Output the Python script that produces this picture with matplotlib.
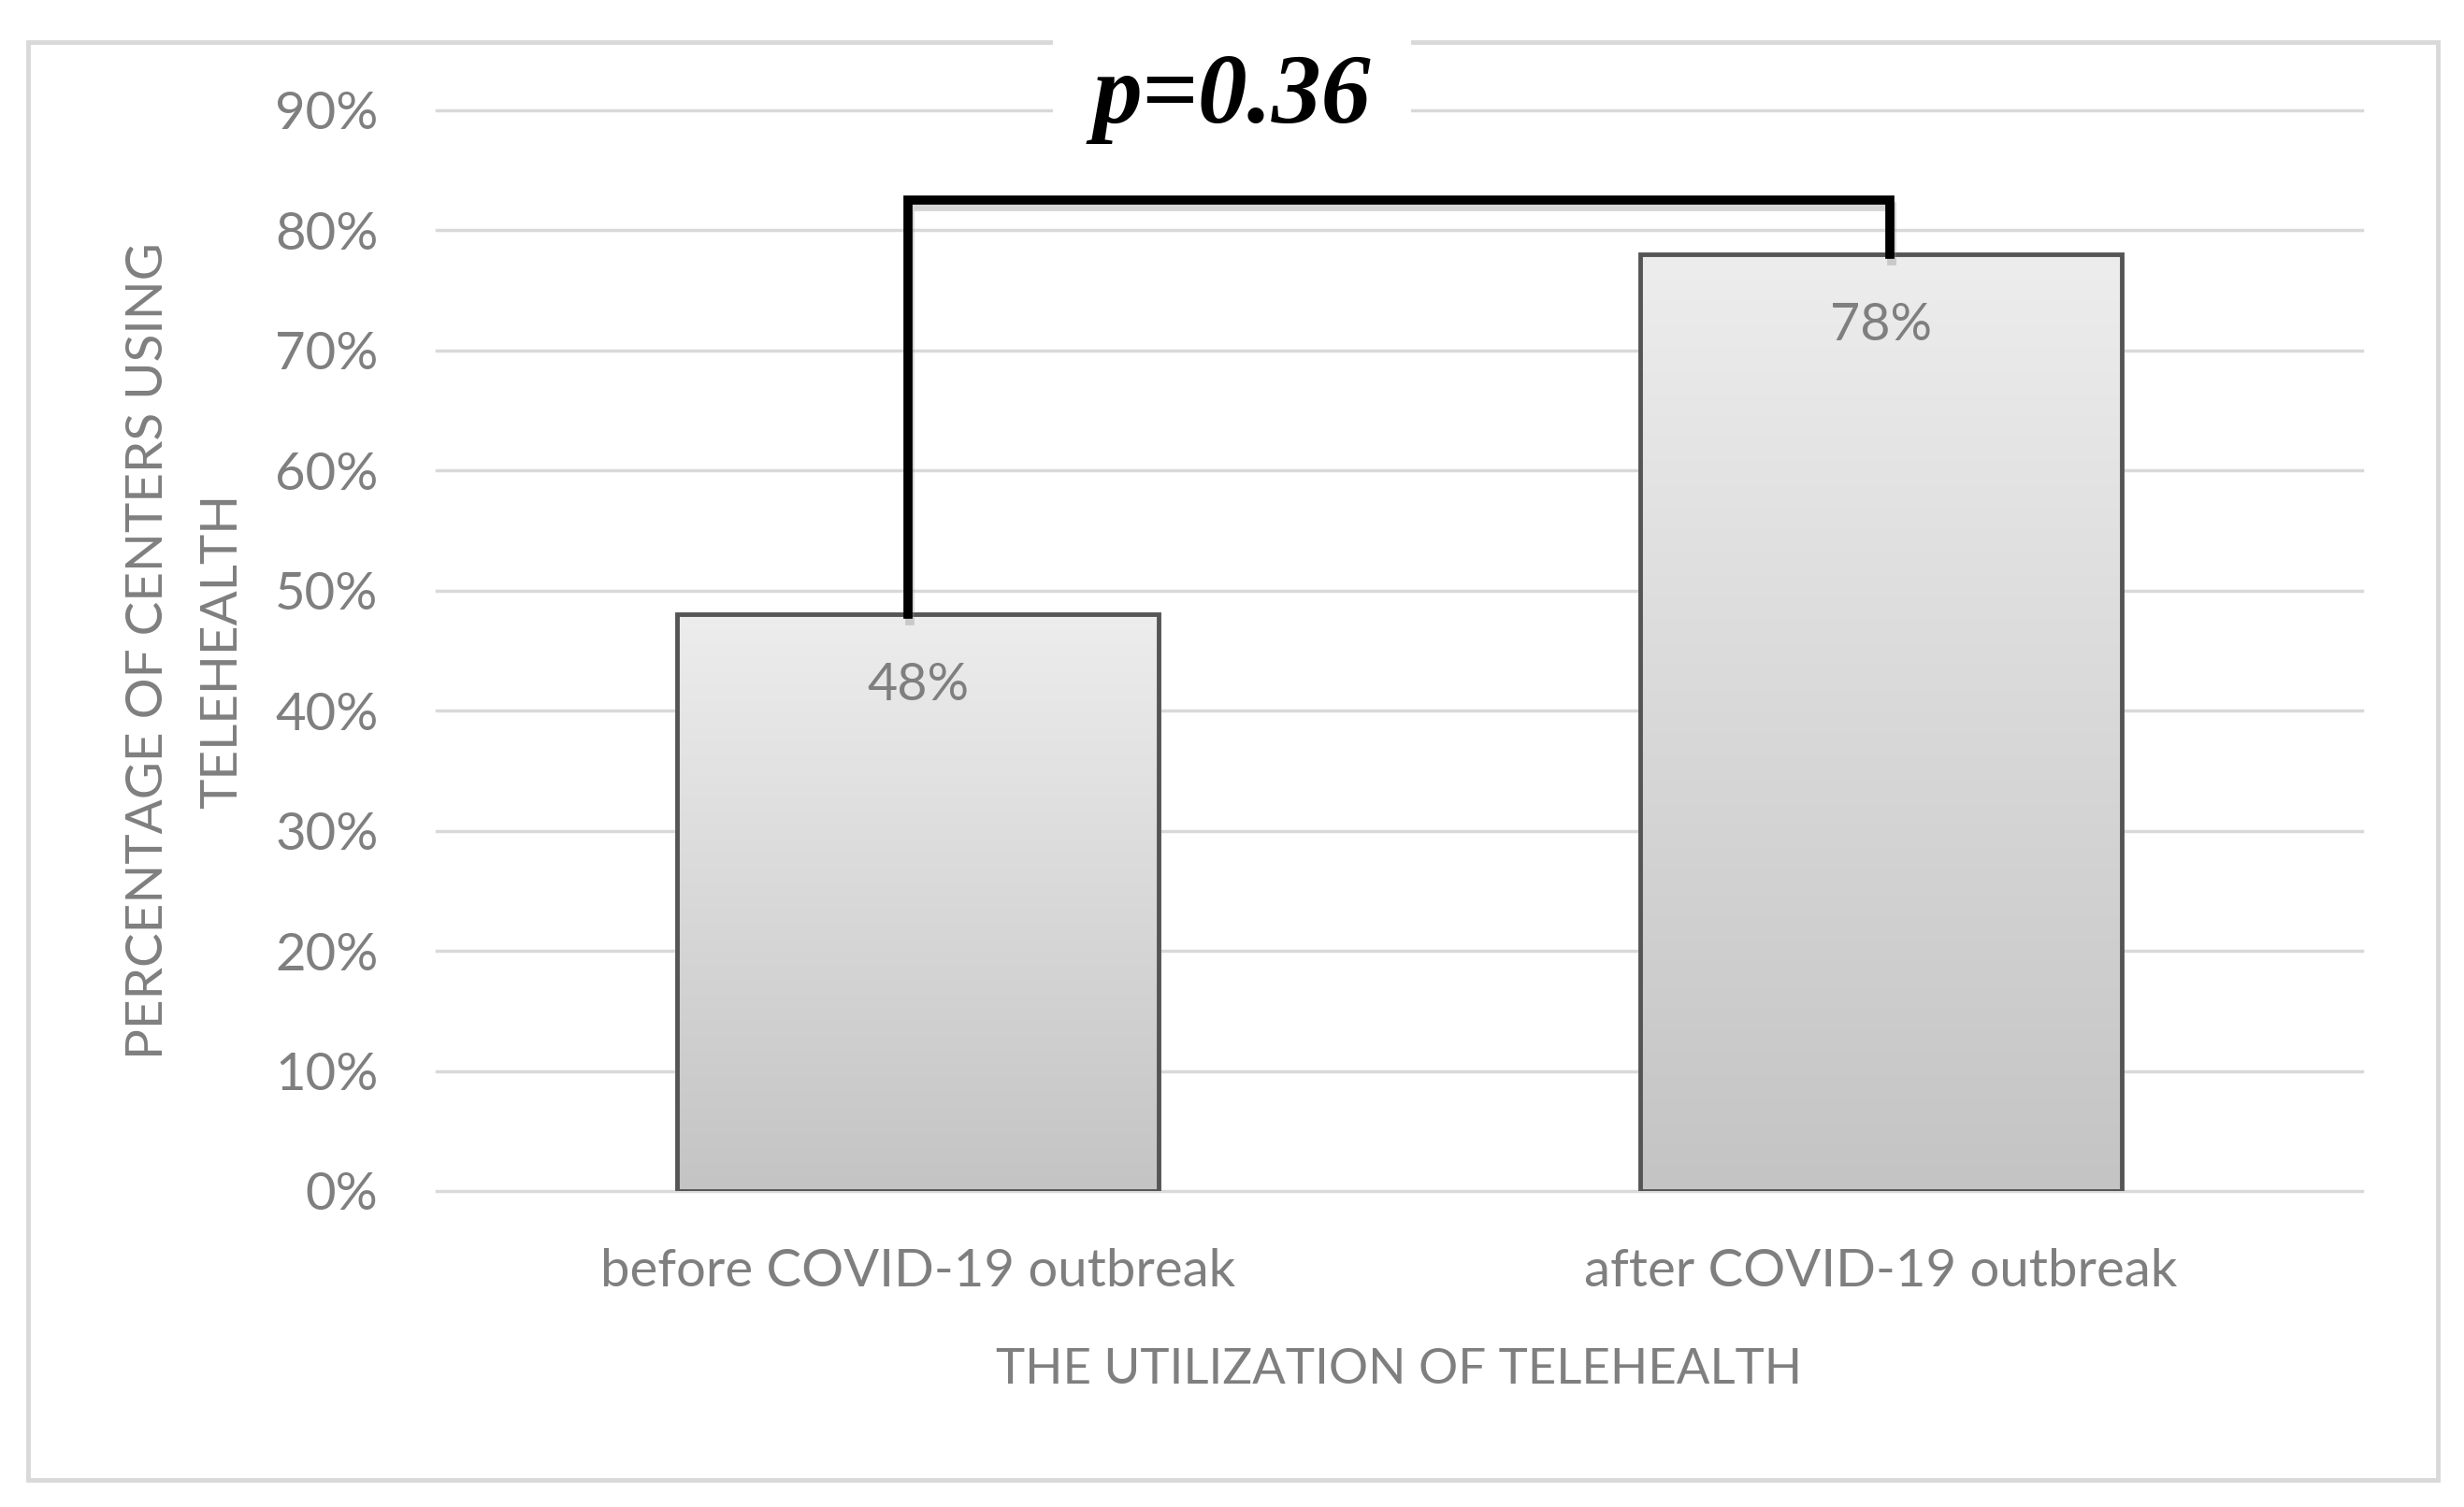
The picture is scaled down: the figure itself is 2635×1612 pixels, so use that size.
import matplotlib.pyplot as plt
import matplotlib.patheffects as pe
from matplotlib.patches import Rectangle
from matplotlib.colors import LinearSegmentedColormap
import numpy as np

# data
categories = ['before COVID-19 outbreak', 'after COVID-19 outbreak']
percent_using = [48, 78]
bar_labels = ['48%', '78%']
y_ticks = [0, 10, 20, 30, 40, 50, 60, 70, 80, 90]
p_value_text = 'p=0.36'
bracket_top = 82.5

plt.rcParams['font.family'] = ['Lato', 'DejaVu Sans']
grey_text = '#7f7f7f'

fig = plt.figure(figsize=(26.35, 16.12), dpi=100)
ax = fig.add_axes([0.1772, 0.2097, 0.7814, 0.7171])
ax.set_facecolor('none')

# light frame round the whole chart
border = Rectangle((0.0114, 0.018), 0.978, 0.954, transform=fig.transFigure,
                   fill=False, edgecolor='#d9d9d9', lw=3.5, zorder=-1)
fig.patches.append(border)

x = np.arange(len(categories))
bars = ax.bar(x, percent_using, width=0.5, color='none', edgecolor='#555555',
              linewidth=3.5, zorder=3)

# vertical grey gradient inside each bar
cmap = LinearSegmentedColormap.from_list('bar_grad', ['#c4c4c4', '#ededed'])
grad = np.linspace(0, 1, 256).reshape(-1, 1)
for b in bars:
    x0, w, h = b.get_x(), b.get_width(), b.get_height()
    im = ax.imshow(grad, cmap=cmap, extent=(x0, x0 + w, 0, h), origin='lower',
                   aspect='auto', zorder=2)
    im.set_clip_path(b)

for xi, v, lab in zip(x, percent_using, bar_labels):
    ax.annotate(lab, (xi, v), xytext=(0, -55), textcoords='offset points',
                ha='center', va='center', fontsize=40, color=grey_text, zorder=4)

ax.set_xlim(-0.5, 1.5)
ax.set_ylim(0, 90)
ax.set_yticks(y_ticks)
ax.set_yticklabels(['{}%'.format(t) for t in y_ticks])
ax.set_xticks(x)
ax.set_xticklabels(categories)
ax.tick_params(axis='y', length=0, pad=45, labelsize=40.5, labelcolor=grey_text)
ax.tick_params(axis='x', length=0, pad=44, labelsize=40.5, labelcolor=grey_text)
for s in ax.spines.values():
    s.set_visible(False)
ax.grid(axis='y', color='#d9d9d9', lw=2.5)
ax.set_axisbelow(True)
for gl in ax.get_ygridlines():
    gl.set_clip_on(False)

ax.set_ylabel('PERCENTAGE OF CENTERS USING\nTELEHEALTH', fontsize=39.5,
              color=grey_text, linespacing=1.75)
ax.yaxis.set_label_coords(-0.0996, 0.5)
ax.set_xlabel('THE UTILIZATION OF TELEHEALTH', fontsize=38, color=grey_text)
ax.xaxis.set_label_coords(0.5, -0.145)

# significance bracket with a soft shadow
ax.plot([x[0] - 0.01, x[0] - 0.01, x[1] + 0.01, x[1] + 0.01],
        [percent_using[0], bracket_top, bracket_top, percent_using[1]],
        color='black', lw=7, solid_joinstyle='miter', clip_on=False, zorder=5,
        path_effects=[pe.SimpleLineShadow(offset=(1, -5), shadow_color='#888888', alpha=0.35),
                      pe.Normal()])

# white patch behind the p value, hiding the top gridline and frame
ax.add_patch(Rectangle((0.320, 0.972), 0.186, 0.104, transform=ax.transAxes,
                       facecolor='white', edgecolor='none', clip_on=False, zorder=6))
ax.text(0.413, 1.011, p_value_text, transform=ax.transAxes, ha='center', va='center',
        fontsize=76, fontweight='bold', fontstyle='italic', family='Liberation Serif',
        zorder=7)

fig.savefig('out.png', dpi=100)
